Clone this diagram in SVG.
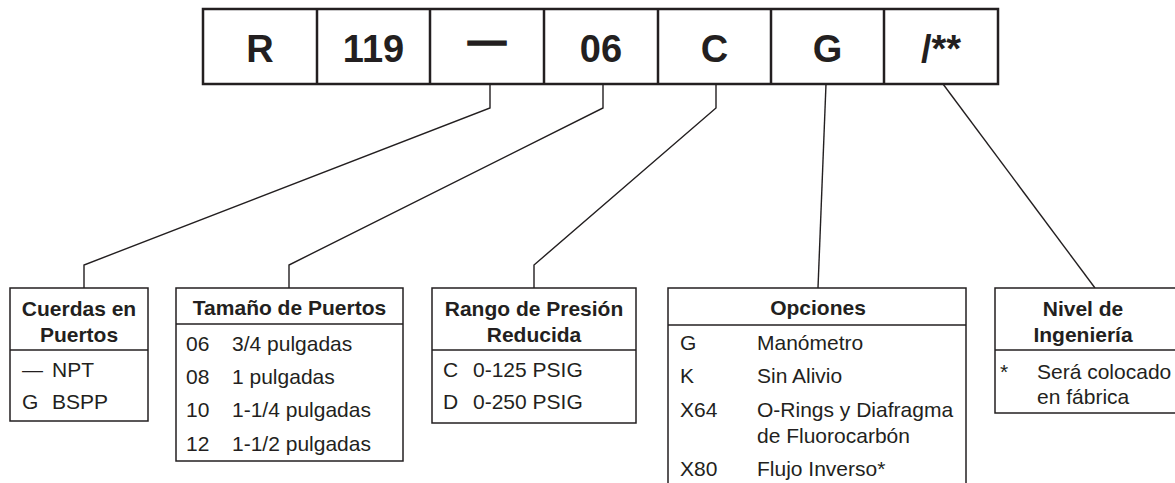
<svg xmlns="http://www.w3.org/2000/svg" width="1175" height="483" viewBox="0 0 1175 483">
<style>
  .cell { fill: #fff; stroke: #231f20; stroke-width: 2.5; }
  .box { fill: #fff; stroke: #231f20; stroke-width: 1.5; }
  .sep { stroke: #231f20; stroke-width: 1.5; }
  .conn { fill: none; stroke: #231f20; stroke-width: 1.4; }
  .code { font-family: "Liberation Sans", Arial, sans-serif; font-weight: bold; font-size: 38px; fill: #231f20; text-anchor: middle; }
  .hdr { font-family: "Liberation Sans", Arial, sans-serif; font-weight: bold; font-size: 21px; fill: #231f20; text-anchor: middle; }
  .txt { font-family: "Liberation Sans", Arial, sans-serif; font-size: 21px; fill: #231f20; }
</style>
<rect width="1175" height="483" fill="#fff"/>
<g id="code">
  <rect class="cell" x="203" y="9" width="795" height="75"/>
  <line class="cell" x1="317" y1="9" x2="317" y2="84"/>
  <line class="cell" x1="430" y1="9" x2="430" y2="84"/>
  <line class="cell" x1="544" y1="9" x2="544" y2="84"/>
  <line class="cell" x1="658" y1="9" x2="658" y2="84"/>
  <line class="cell" x1="771" y1="9" x2="771" y2="84"/>
  <line class="cell" x1="884" y1="9" x2="884" y2="84"/>
  <text class="code" x="260" y="62">R</text>
  <text class="code" x="373.5" y="62">119</text>
  <text class="code" x="487" y="54" stroke="#231f20" stroke-width="1.5">—</text>
  <text class="code" x="601" y="62">06</text>
  <text class="code" x="714.5" y="62">C</text>
  <text class="code" x="827.5" y="62">G</text>
  <text class="code" x="941" y="62">/**</text>
</g>
<g id="connectors">
  <polyline class="conn" points="490,84 490,108 84,265 84,288"/>
  <polyline class="conn" points="603,84 603,108 289,265 289,288"/>
  <polyline class="conn" points="716,84 716,108 534,265 534,288"/>
  <polyline class="conn" points="826,84 818,288"/>
  <polyline class="conn" points="943,84 1095,288"/>
</g>
<g id="cuerdas">
  <rect class="box" x="10" y="288" width="138" height="133"/>
  <line class="sep" x1="10" y1="350" x2="148" y2="350"/>
  <text class="hdr" x="79" y="316">Cuerdas en</text>
  <text class="hdr" x="79" y="342">Puertos</text>
  <text class="txt" x="22" y="377">—</text>
  <text class="txt" x="52" y="377">NPT</text>
  <text class="txt" x="22" y="409">G</text>
  <text class="txt" x="52" y="409">BSPP</text>
</g>
<g id="tamano">
  <rect class="box" x="176" y="288" width="227" height="173"/>
  <line class="sep" x1="176" y1="324" x2="403" y2="324"/>
  <text class="hdr" x="289.5" y="315">Tamaño de Puertos</text>
  <text class="txt" x="186" y="351">06</text>
  <text class="txt" x="232" y="351">3/4 pulgadas</text>
  <text class="txt" x="186" y="384">08</text>
  <text class="txt" x="232" y="384">1 pulgadas</text>
  <text class="txt" x="186" y="417">10</text>
  <text class="txt" x="232" y="417">1-1/4 pulgadas</text>
  <text class="txt" x="186" y="451">12</text>
  <text class="txt" x="232" y="451">1-1/2 pulgadas</text>
</g>
<g id="rango">
  <rect class="box" x="432" y="288" width="204" height="135"/>
  <line class="sep" x1="432" y1="350" x2="636" y2="350"/>
  <text class="hdr" x="534" y="316">Rango de Presión</text>
  <text class="hdr" x="534" y="342">Reducida</text>
  <text class="txt" x="443" y="377">C</text>
  <text class="txt" x="473" y="377">0-125 PSIG</text>
  <text class="txt" x="443" y="409">D</text>
  <text class="txt" x="473" y="409">0-250 PSIG</text>
</g>
<g id="opciones">
  <rect class="box" x="668" y="288" width="298" height="210"/>
  <line class="sep" x1="668" y1="325" x2="966" y2="325"/>
  <text class="hdr" x="818" y="315">Opciones</text>
  <text class="txt" x="680" y="350">G</text>
  <text class="txt" x="757" y="350">Manómetro</text>
  <text class="txt" x="680" y="383">K</text>
  <text class="txt" x="757" y="383">Sin Alivio</text>
  <text class="txt" x="680" y="417">X64</text>
  <text class="txt" x="757" y="417">O-Rings y Diafragma</text>
  <text class="txt" x="757" y="443">de Fluorocarbón</text>
  <text class="txt" x="680" y="476">X80</text>
  <text class="txt" x="757" y="476">Flujo Inverso*</text>
</g>
<g id="nivel">
  <rect class="box" x="995" y="288" width="200" height="125"/>
  <line class="sep" x1="995" y1="350" x2="1175" y2="350"/>
  <text class="hdr" x="1083" y="316">Nivel de</text>
  <text class="hdr" x="1083" y="342">Ingeniería</text>
  <text class="txt" x="1000" y="379">*</text>
  <text class="txt" x="1037" y="379">Será colocado</text>
  <text class="txt" x="1037" y="404">en fábrica</text>
</g>
</svg>
